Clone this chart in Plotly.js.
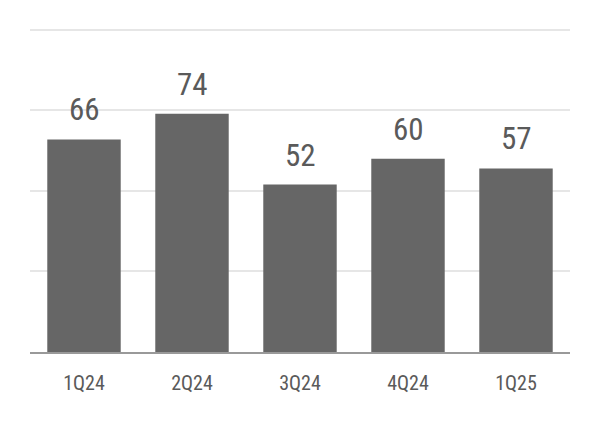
<!DOCTYPE html>
<html>
<head>
<meta charset="utf-8">
<script src="https://cdn.plot.ly/plotly-3.0.1.min.js"></script>
<style>
  html, body { margin: 0; padding: 0; background: #fff; }
  #chart { width: 600px; height: 422px; }
</style>
</head>
<body>
<div id="chart"></div>
<script>
// quarters and values
const quarters = ['1Q24', '2Q24', '3Q24', '4Q24', '1Q25'];
const values   = [66, 74, 52, 60, 57];

const FONT = 'Roboto Condensed, DejaVu Sans Condensed, Liberation Sans Narrow, sans-serif';

const data = [{
    type: 'bar',
    x: quarters,
    y: values,
    marker: { color: '#666666' },
    hoverinfo: 'skip'
}];

// value labels sit a bit above each bar
const annotations = quarters.map((q, i) => ({
    x: q, y: values[i], xref: 'x', yref: 'y',
    text: String(values[i]),
    showarrow: false,
    yanchor: 'bottom',
    yshift: 9,
    font: { family: FONT, size: 31, color: '#5a5a5a' }
}));

const layout = {
    width: 600, height: 422,
    margin: { l: 30, r: 30, t: 28, b: 70 },
    paper_bgcolor: '#ffffff',
    plot_bgcolor: '#ffffff',
    showlegend: false,
    bargap: 0.32,
    xaxis: {
        type: 'category',
        showgrid: false,
        showline: true,
        linecolor: '#999999',
        linewidth: 2,
        ticks: '',
        tickfont: { family: FONT, size: 20, color: '#5a5a5a' },
        ticklabelstandoff: 12
    },
    yaxis: {
        range: [0, 100.6],
        tickvals: [0, 25, 50, 75, 100],
        showgrid: true,
        gridcolor: '#e6e6e6',
        gridwidth: 2,
        zeroline: false,
        showticklabels: false,
        ticks: ''
    },
    annotations: annotations
};

Plotly.newPlot('chart', data, layout, { staticPlot: true, displayModeBar: false });
</script>
</body>
</html>
